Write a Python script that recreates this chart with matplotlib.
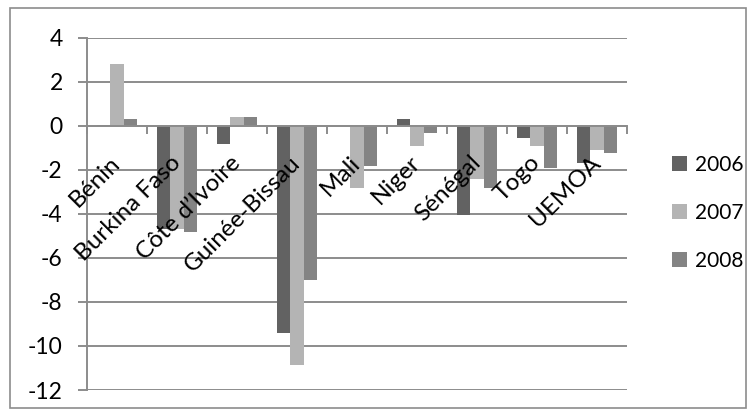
import numpy as np
import matplotlib
matplotlib.use("Agg")
import matplotlib.pyplot as plt
from matplotlib.patches import Rectangle

# Solde budgétaire par pays (en % du PIB)
pays = ["Bénin", "Burkina Faso", "Côte d\u2019Ivoire", "Guinée-Bissau", "Mali",
        "Niger", "Sénégal", "Togo", "UEMOA"]
annees = ["2006", "2007", "2008"]
v2006 = [0.05, -4.7, -0.8, -9.4, 0.0, 0.3, -4.05, -0.55, -1.7]
v2007 = [2.8, -4.7, 0.4, -10.85, -2.8, -0.9, -2.4, -0.9, -1.1]
v2008 = [0.3, -4.8, 0.4, -7.0, -1.8, -0.3, -2.8, -1.9, -1.25]
yticks = [4, 2, 0, -2, -4, -6, -8, -10, -12]

couleurs = ["#626262", "#b4b4b4", "#848484"]
gris = "#8c8c8c"

plt.rcParams["font.family"] = ["Lato", "DejaVu Sans"]

fig = plt.figure(figsize=(7.56, 4.15), dpi=100)
ax = fig.add_axes([87 / 756, 1 - 390 / 415, 540 / 756, 352 / 415])

x = np.arange(len(pays))
w = 0.222
for i, (vals, c) in enumerate(zip([v2006, v2007, v2008], couleurs)):
    ax.bar(x + (i - 1) * w, vals, w, color=c, label=annees[i], zorder=3)

ax.set_xlim(-0.5, len(pays) - 0.5)
ax.set_ylim(-12, 4)
ax.set_yticks(yticks)
ax.set_yticklabels([str(t) for t in yticks])
ax.yaxis.grid(True, color=gris, linewidth=1.4, zorder=0)

# axe des catégories posé sur la ligne zéro
for s in ["top", "right"]:
    ax.spines[s].set_visible(False)
ax.spines["bottom"].set_position(("data", 0))
ax.spines["bottom"].set_color(gris)
ax.spines["bottom"].set_linewidth(1.4)
ax.spines["bottom"].set_zorder(4)
ax.spines["left"].set_color(gris)
ax.spines["left"].set_linewidth(1.4)

ax.set_xticks(np.arange(len(pays) + 1) - 0.5)
ax.set_xticklabels([])
ax.set_xticks(x, minor=True)
ax.set_xticklabels(pays, minor=True, rotation=45, ha="right", va="center",
                   rotation_mode="anchor", fontsize=17.5)
ax.tick_params(axis="x", which="major", length=6, width=1.4, color=gris, direction="out")
ax.tick_params(axis="x", which="minor", length=0, pad=24)
ax.tick_params(axis="y", length=6.5, width=1.4, color=gris, pad=11, labelsize=16.5)
for lab in ax.get_xticklabels(minor=True):
    lab.set_zorder(5)
ax.xaxis.set_zorder(5)

ax.legend(loc="center left", bbox_to_anchor=(655 / 756, 1 - 213 / 415),
          bbox_transform=fig.transFigure, frameon=False, fontsize=15,
          handlelength=0.75, handleheight=0.75, labelspacing=1.35,
          handletextpad=0.35, borderpad=0.3)

fig.add_artist(Rectangle((10 / 756, 1 - 408 / 415), 736 / 756, 400 / 415,
                         transform=fig.transFigure, fill=False,
                         edgecolor=gris, linewidth=1.2))

fig.savefig("out.png", dpi=100)
